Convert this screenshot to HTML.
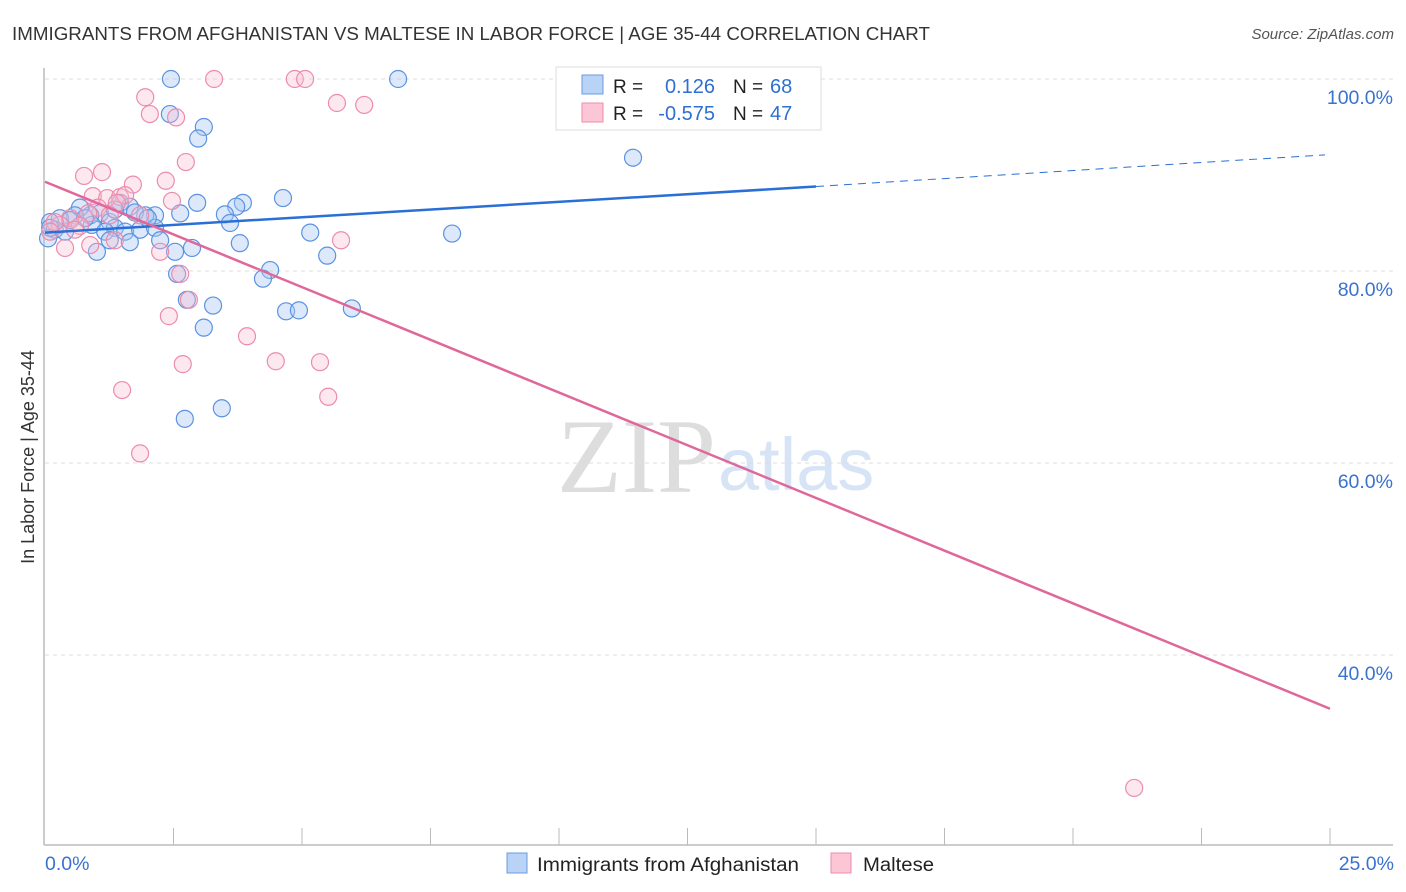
<!DOCTYPE html>
<html><head><meta charset="utf-8"><style>
body{margin:0;background:#fff;font-family:"Liberation Sans",sans-serif;}
#wrap{position:relative;width:1406px;height:892px;overflow:hidden;}
</style></head><body>
<div id="wrap">
<svg id="svg" width="1406" height="892" xmlns="http://www.w3.org/2000/svg">
<text x="12" y="40" font-size="18" fill="#333" textLength="918" lengthAdjust="spacingAndGlyphs">IMMIGRANTS FROM AFGHANISTAN VS MALTESE IN LABOR FORCE | AGE 35-44 CORRELATION CHART</text>
<text x="1394" y="39" font-size="15" fill="#555" font-style="italic" text-anchor="end">Source: ZipAtlas.com</text>
<text x="716" y="492" font-size="106" fill="#ddd" text-anchor="end" font-family="Liberation Serif,serif">ZIP</text>
<text x="718" y="490" font-size="74" fill="#d6e4f5">atlas</text>
<text transform="translate(34,457) rotate(-90)" font-size="18" fill="#333" text-anchor="middle">In Labor Force | Age 35-44</text>
<g id="grid"></g><g id="axes"></g><g id="pts"></g><g id="trend"></g>
<g>
<rect x="556" y="67" width="265" height="63" fill="#fff" stroke="#ddd"/>
<rect x="582" y="75" width="21" height="19" fill="#b8d3f5" stroke="#6a9be0"/>
<rect x="582" y="103" width="21" height="19" fill="#fcc6d6" stroke="#ec8cac"/>
<text x="613" y="93" font-size="19" fill="#222">R = </text><text x="715" y="93" font-size="20" fill="#2f6fd0" text-anchor="end">0.126</text>
<text x="733" y="93" font-size="19" fill="#222">N = </text><text x="770" y="93" font-size="20" fill="#2f6fd0">68</text>
<text x="613" y="120" font-size="19" fill="#222">R = </text><text x="715" y="120" font-size="20" fill="#2f6fd0" text-anchor="end">-0.575</text>
<text x="733" y="120" font-size="19" fill="#222">N = </text><text x="770" y="120" font-size="20" fill="#2f6fd0">47</text>
</g>
<g>
<rect x="507" y="853" width="20" height="20" fill="#b8d3f5" stroke="#6a9be0"/>
<text x="537" y="871" font-size="19" fill="#222" textLength="262" lengthAdjust="spacingAndGlyphs">Immigrants from Afghanistan</text>
<rect x="831" y="853" width="20" height="20" fill="#fcc6d6" stroke="#ec8cac"/>
<text x="863" y="871" font-size="19" fill="#222" textLength="71" lengthAdjust="spacingAndGlyphs">Maltese</text>
</g>
</svg>
</div>
<script>
const blueX=[2.45,6.87,2.43,3.09,2.98,11.44,4.63,2.96,3.85,3.72,3.50,2.63,2.14,1.95,1.46,1.65,1.07,0.88,0.68,0.58,0.29,0.10,0.19,0.39,0.91,1.26,1.36,1.56,1.85,2.14,1.17,1.26,1.65,2.24,2.53,2.86,3.79,1.01,3.60,5.16,7.92,5.49,4.38,4.24,2.57,2.76,3.27,4.69,4.94,5.97,3.09,3.44,2.72,0.06,0.10,0.49,0.78,1.75,2.00,1.36,10.37];
const blueY=[100,100,96.35,95.0,93.8,91.8,87.6,87.1,87.1,86.7,85.9,86.0,85.8,85.8,87.1,86.7,86.0,85.8,86.6,85.8,85.5,85.1,84.3,84.1,84.8,85.1,84.5,84.1,84.3,84.5,84.1,83.2,83.0,83.2,82.0,82.4,82.9,82.0,85.0,84.0,83.9,81.6,80.1,79.2,79.7,77.0,76.4,75.8,75.9,76.1,74.1,65.7,64.6,83.4,84.5,85.3,85.5,86.1,85.5,86.4,99.9];
const pinkX=[3.29,4.86,5.06,1.95,5.68,6.21,2.04,2.55,2.74,1.11,0.76,2.35,1.71,0.93,1.21,1.46,1.56,1.40,2.47,1.03,0.84,1.85,0.49,0.29,0.68,1.36,0.39,0.88,2.24,5.76,2.63,2.80,2.41,3.93,4.49,5.35,2.68,1.50,5.51,1.85,21.19,0.19,0.58,0.10,1.26];
const pinkY=[100,100,100,98.1,97.5,97.3,96.35,96.0,91.35,90.3,89.9,89.4,89.0,87.8,87.6,87.7,87.9,87.1,87.3,86.6,86.0,85.8,85.5,84.8,84.7,83.2,82.4,82.7,82.0,83.2,79.7,77.0,75.3,73.2,70.6,70.5,70.3,67.6,66.9,61.0,26.15,85.1,84.3,84.1,85.8];
const yTicks=[100,80,60,40];
const xTickLabels=["0.0%","25.0%"];
const blueTrend=[[0,84.0],[15,88.8],[25,92.1]];
const pinkTrend=[[0,89.3],[25,34.4]];
const NS="http://www.w3.org/2000/svg";
const sx=v=>45+v*51.4, sy=v=>79+(100-v)*9.6;
function mk(parent,tag,attrs){const e=document.createElementNS(NS,tag);for(const k in attrs)e.setAttribute(k,attrs[k]);document.getElementById(parent).appendChild(e);return e;}
yTicks.forEach(t=>{
 const l=mk('grid','line',{x1:45,x2:1393,y1:sy(t),y2:sy(t),stroke:'#ddd','stroke-dasharray':'4,4'});
 
 
 const tx=mk('grid','text',{x:1393,y:sy(t)+25,'font-size':19.5,fill:'#3a72d0','text-anchor':'end'});
 tx.textContent=t.toFixed(1)+'%';
 
 
});
let ax=mk('axes','line',{x1:44,x2:44,y1:68,y2:845,stroke:'#bbb','stroke-width':1.5});


ax=mk('axes','line',{x1:44,x2:1393,y1:845,y2:845,stroke:'#bbb','stroke-width':1.5});


for(let i=1;i<=10;i++){const t=mk('axes','line',{x1:sx(i*2.5),x2:sx(i*2.5),y1:828,y2:845,stroke:'#bbb'});
 
 }
[[0,'start',45],[25,'end',1394]].forEach((d,i)=>{const t=mk('axes','text',{x:d[2],y:870,'font-size':19.5,fill:'#3a72d0','text-anchor':d[1]});t.textContent=xTickLabels[i];
 
 });
blueX.forEach((x,i)=>{const c=mk('pts','circle',{cx:sx(x),cy:sy(blueY[i]),r:8.5,fill:'rgba(170,200,242,0.4)',stroke:'#5b93e0','stroke-width':1.2});
 
 });
pinkX.forEach((x,i)=>{const c=mk('pts','circle',{cx:sx(x),cy:sy(pinkY[i]),r:8.5,fill:'rgba(250,190,208,0.35)',stroke:'#ec8cac','stroke-width':1.2});
 
 });
let l=mk('trend','line',{x1:sx(blueTrend[0][0]),y1:sy(blueTrend[0][1]),x2:sx(blueTrend[1][0]),y2:sy(blueTrend[1][1]),stroke:'#2a6fd6','stroke-width':2.5});


l=mk('trend','line',{x1:sx(blueTrend[1][0]),y1:sy(blueTrend[1][1]),x2:sx(blueTrend[2][0])-5,y2:sy(blueTrend[2][1]),stroke:'#2a6fd6','stroke-width':1,'stroke-dasharray':'8,6'});


l=mk('trend','line',{x1:sx(pinkTrend[0][0]),y1:sy(pinkTrend[0][1]),x2:sx(pinkTrend[1][0]),y2:sy(pinkTrend[1][1]),stroke:'#e0679a','stroke-width':2.5});


</script>
</body></html>
